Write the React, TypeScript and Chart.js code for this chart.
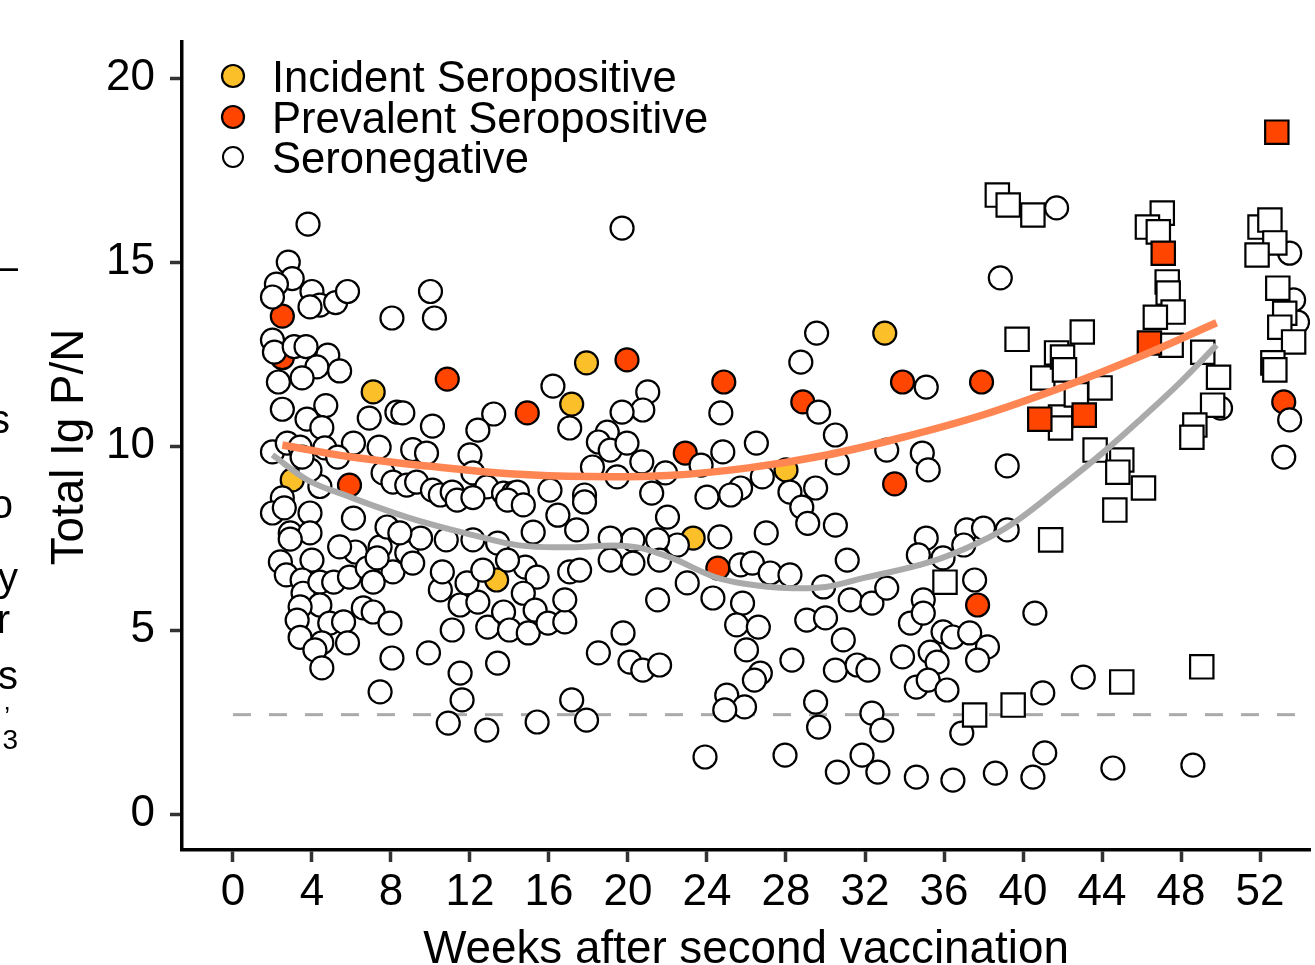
import React, { useEffect, useRef } from 'react';
import { Chart, registerables } from 'chart.js';

Chart.register(...registerables);

const FONT = '"Liberation Sans", Arial, Helvetica, sans-serif';

// ---------- data ----------
const xTickValues = [0, 4, 8, 12, 16, 20, 24, 28, 32, 36, 40, 44, 48, 52];
const yTickValues = [0, 5, 10, 15, 20];
const cutoffValue = 2.7;
const legendLabels = ['Incident Seropositive', 'Prevalent Seropositive', 'Seronegative'];
const xTitle = 'Weeks after second vaccination';
const yTitle = 'Total Ig P/N';

// [weeks after second vaccination, total Ig P/N]
const seronegative: [number, number][] = [
  [3.8, 16.03], [2.8, 15.0], [3.0, 14.55], [2.2, 14.4], [2.0, 14.05], [4.0, 14.2], [4.4, 13.83], [3.9, 13.78], [5.2, 13.9], [5.8, 14.2],
  [2.0, 12.88], [2.1, 12.55], [3.1, 12.7], [3.7, 12.7], [4.8, 12.47], [4.25, 12.15], [5.4, 12.04], [3.5, 11.85], [2.3, 11.74],
  [2.5, 11.0], [4.7, 11.1], [3.75, 10.73], [4.5, 10.5], [6.9, 10.76], [8.3, 10.92], [8.6, 10.9], [10.1, 10.54], [13.2, 10.87], [12.4, 10.43],
  [10.0, 14.2], [8.05, 13.48], [10.2, 13.48],
  [2.0, 9.84], [2.75, 10.08], [3.4, 9.97], [4.4, 8.9], [6.1, 10.08], [7.4, 9.97], [9.1, 9.9], [12.0, 9.76],
  [7.6, 9.27], [8.1, 9.02], [8.8, 8.94], [9.3, 9.02], [10.1, 8.8], [10.5, 8.67], [11.1, 8.75], [12.15, 9.27], [12.85, 8.89], [13.7, 8.72],
  [14.2, 8.72], [3.9, 9.35], [3.5, 9.7], [4.65, 9.95], [5.3, 9.7], [9.8, 9.81], [2.5, 8.59],
  [2.0, 8.18], [2.6, 8.32], [3.9, 8.18], [2.9, 7.64], [3.9, 7.64], [2.9, 7.47], [2.4, 6.85], [4.0, 6.9], [2.7, 6.5], [3.5, 6.36],
  [3.55, 6.0], [4.4, 6.3], [5.1, 6.3], [4.4, 5.68], [3.4, 5.63], [3.25, 5.27], [4.9, 5.19], [5.6, 5.22], [3.4, 4.8], [4.5, 4.65],
  [4.15, 4.46], [4.5, 3.97], [5.8, 4.65],
  [6.1, 8.04], [6.2, 7.12], [5.9, 6.44], [6.8, 6.68], [7.45, 7.26], [8.1, 6.58], [7.1, 6.3], [6.6, 5.6], [7.1, 5.49], [7.95, 5.19],
  [8.05, 4.24], [7.45, 3.32], [9.9, 4.38], [11.1, 5.0], [10.5, 6.09], [10.6, 6.58], [11.5, 5.68], [12.4, 5.76], [11.85, 6.28], [12.65, 6.63],
  [12.9, 5.08], [13.7, 5.49], [14.0, 5.0], [11.5, 3.83], [11.6, 3.1], [10.9, 2.47], [12.85, 2.28], [13.4, 4.1],
  [7.8, 7.8], [8.8, 7.1], [9.5, 7.5], [11.35, 8.53], [12.15, 8.6], [10.8, 7.45], [12.15, 7.45], [13.4, 7.36], [5.4, 7.26], [7.3, 6.96],
  [8.45, 7.64], [9.1, 6.82],
  [19.7, 15.92], [16.2, 11.63], [21.0, 11.47], [20.75, 10.98], [19.7, 10.92], [24.7, 10.9], [17.05, 10.49], [18.95, 10.38], [18.5, 10.11],
  [19.1, 9.89], [19.95, 10.08], [26.5, 10.08], [24.8, 9.84], [18.2, 9.43], [20.7, 9.57], [21.9, 9.27], [23.7, 9.48], [26.8, 9.16],
  [19.45, 9.16], [16.05, 8.8], [14.4, 8.75], [17.8, 8.67], [21.2, 8.72], [25.7, 8.86], [24.0, 8.61],
  [13.9, 8.53], [14.7, 8.4], [16.45, 8.12], [17.8, 8.48], [17.4, 7.72], [15.2, 7.66], [22.0, 8.07], [25.2, 8.67],
  [27.0, 7.64], [24.65, 7.53], [22.5, 7.31], [21.5, 7.45], [20.25, 7.45], [19.1, 7.5], [19.1, 6.9], [20.25, 6.82], [21.6, 6.9],
  [25.7, 6.77], [26.3, 6.82], [27.2, 6.55], [23.0, 6.28], [24.3, 5.87], [25.8, 5.73], [21.5, 5.82], [25.5, 5.14], [26.6, 5.08],
  [26.0, 4.46], [26.7, 3.83], [26.4, 3.64], [25.0, 3.23], [25.9, 2.91], [24.9, 2.83], [23.9, 1.55], [19.75, 4.92], [18.5, 4.38],
  [20.1, 4.13], [20.75, 3.91], [21.6, 4.05], [17.15, 3.1], [17.9, 2.55], [15.4, 2.5],
  [14.8, 6.71], [15.4, 6.44], [14.7, 6.0], [15.3, 5.54], [14.95, 4.92], [15.95, 5.19], [16.8, 5.22], [16.8, 5.82], [17.05, 6.58],
  [17.55, 6.63], [13.9, 6.9],
  [38.85, 14.57], [29.55, 13.07], [28.75, 12.28], [35.1, 11.6], [29.65, 10.92], [30.5, 10.3], [30.6, 9.54], [33.1, 9.89], [34.9, 9.81],
  [35.2, 9.35], [39.2, 9.46], [29.5, 8.86], [28.2, 8.75],
  [41.7, 16.47], [50.0, 11.03], [53.5, 15.24], [53.7, 13.97], [53.9, 13.37], [53.5, 10.71], [53.2, 9.7],
  [28.8, 8.34], [29.1, 7.9], [30.5, 7.85], [31.1, 6.9], [28.2, 6.5], [29.9, 6.17], [31.25, 5.82], [32.35, 5.73], [33.1, 6.14],
  [29.05, 5.27], [30.0, 5.33], [30.9, 4.73], [28.3, 4.18], [30.5, 3.91], [31.6, 4.05], [32.15, 3.91],
  [35.1, 7.5], [34.7, 7.04], [35.95, 6.96], [37.15, 7.72], [38.0, 7.77], [39.2, 7.72], [37.0, 7.31], [37.55, 6.36], [40.6, 5.46],
  [34.95, 5.82], [34.3, 5.19], [34.95, 5.46], [35.95, 4.95], [36.45, 4.81], [37.3, 4.92], [38.2, 4.54], [33.9, 4.27], [35.3, 4.4],
  [35.65, 4.13], [37.7, 4.18], [34.6, 3.45], [35.2, 3.64], [36.15, 3.37], [29.5, 3.04], [29.65, 2.36], [32.35, 2.74], [32.85, 2.28],
  [36.9, 2.2], [41.0, 3.29], [27.95, 1.6], [31.85, 1.6], [30.6, 1.14], [32.65, 1.14], [34.6, 1.0], [36.45, 0.92], [38.6, 1.11],
  [40.5, 1.0], [41.1, 1.66], [43.05, 3.72], [44.55, 1.25], [48.6, 1.33],
];

const incident: [number, number][] = [
  [7.1, 11.47], [3.0, 9.08], [13.35, 6.36], [17.9, 12.26], [17.15, 11.14], [23.3, 7.5], [28.0, 9.35], [33.0, 13.07],
];

const prevalent: [number, number][] = [
  [2.5, 13.53], [2.5, 12.4], [10.85, 11.82], [5.9, 8.94], [19.95, 12.34], [14.9, 10.9], [24.85, 11.74], [22.9, 9.81],
  [24.55, 6.68], [33.9, 11.74], [37.9, 11.74], [28.85, 11.2], [33.5, 8.97], [37.7, 5.68], [53.2, 11.2],
];

const squaresNegative: [number, number][] = [
  [38.7, 16.82], [39.25, 16.55], [40.5, 16.28], [39.7, 12.9], [41.0, 11.85], [41.7, 12.53], [41.9, 10.79],
  [47.05, 16.33], [46.3, 15.95], [46.85, 15.82], [47.3, 14.46], [47.35, 14.16], [47.6, 13.64], [46.7, 13.5], [47.5, 12.74],
  [49.1, 12.55], [49.9, 11.87], [49.6, 11.11], [48.7, 10.57], [48.55, 10.24], [43.0, 13.1], [42.0, 12.42], [42.1, 12.07],
  [43.9, 11.58], [42.7, 11.39], [41.9, 10.49], [43.65, 9.89], [45.0, 9.62], [44.8, 9.29], [46.1, 8.86],
  [52.0, 15.95], [52.5, 16.14], [52.75, 15.52], [51.85, 15.19], [52.9, 14.29], [53.25, 13.61], [53.0, 13.23], [53.7, 12.83],
  [52.65, 12.26], [52.75, 12.07],
  [36.05, 6.3], [37.55, 2.69], [39.5, 2.96], [41.4, 7.45], [44.65, 8.26], [45.0, 3.59], [49.05, 4.0],
];

const squaresPrevalent: [number, number][] = [
  [52.85, 18.53], [47.1, 15.24], [46.4, 12.8], [43.1, 10.84], [40.85, 10.73],
];

const seropositiveFit: [number, number][] = [
  [2.5, 10.03], [6, 9.7], [10, 9.45], [14, 9.25], [18, 9.17], [22, 9.2], [26, 9.4], [30, 9.75], [34, 10.25],
  [38, 10.85], [42, 11.6], [46, 12.45], [49.8, 13.35],
];

const seronegativeFit: [number, number][] = [
  [2.0, 9.76], [3.8, 9.07], [5.4, 8.72], [8.8, 8.07], [12.15, 7.58], [14.5, 7.3], [17, 7.25], [20, 7.28], [22, 7.0],
  [24.4, 6.44], [26, 6.25], [28, 6.14], [30, 6.17], [31.9, 6.41], [35.3, 6.85], [37.8, 7.39], [39.5, 7.9], [41.9, 8.89],
  [44, 9.8], [46, 10.75], [48, 11.75], [49.8, 12.74],
];

const cutoffSpan: [number, number] = [0, 54.6];

// ---------- styles ----------
const COL_INCIDENT = '#FBBF2A';
const COL_PREVALENT = '#FF4500';
const COL_NEG = '#FFFFFF';
const COL_FIT_POS = '#FF8652';
const COL_FIT_NEG = '#AAAAAA';

const toPts = (arr: [number, number][]) => arr.map(([x, y]) => ({ x, y }));

const overlayPlugin = {
  id: 'overlayText',
  afterDraw(chart: any) {
    const ctx = chart.ctx as CanvasRenderingContext2D;
    ctx.save();
    // legend
    const fills = [COL_INCIDENT, COL_PREVALENT, COL_NEG];
    const rows = [76, 117, 157];
    ctx.font = `43.6px ${FONT}`;
    ctx.textAlign = 'left';
    ctx.textBaseline = 'alphabetic';
    legendLabels.forEach((label, i) => {
      ctx.beginPath();
      ctx.arc(233, rows[i], i === 2 ? 10 : 11, 0, Math.PI * 2);
      ctx.fillStyle = fills[i];
      ctx.fill();
      ctx.lineWidth = i === 2 ? 2 : 2.2;
      ctx.strokeStyle = '#000';
      ctx.stroke();
      ctx.fillStyle = '#000';
      ctx.fillText(label, 272, rows[i] + 15.5);
    });
    // axis titles
    ctx.font = `45.8px ${FONT}`;
    ctx.textAlign = 'center';
    ctx.fillText(xTitle, 746, 963);
    ctx.translate(83, 447);
    ctx.rotate(-Math.PI / 2);
    ctx.fillText(yTitle, 0, 0);
    ctx.restore();
  },
};

export default function App() {
  const canvasRef = useRef<HTMLCanvasElement | null>(null);

  useEffect(() => {
    const canvas = canvasRef.current;
    if (!canvas) return;
    const pointBase = {
      type: 'scatter' as const,
      showLine: false,
      borderColor: '#000',
      borderWidth: 2.2,
      pointRadius: 11.5,
      pointHoverRadius: 11.5,
    };
    const chart = new Chart(canvas, {
      type: 'scatter',
      data: {
        datasets: [
          {
            label: 'seropositive fit',
            data: toPts(seropositiveFit),
            showLine: true,
            borderColor: COL_FIT_POS,
            borderWidth: 7.5,
            pointRadius: 0,
            tension: 0.4,
            fill: false,
            order: 0,
          } as any,
          {
            label: 'seronegative fit',
            data: toPts(seronegativeFit),
            showLine: true,
            borderColor: COL_FIT_NEG,
            borderWidth: 6,
            pointRadius: 0,
            tension: 0.4,
            fill: false,
            order: 0,
          } as any,
          {
            ...pointBase,
            label: 'squares prevalent',
            data: toPts(squaresPrevalent),
            pointStyle: 'rect',
            pointRadius: 16.5,
            backgroundColor: COL_PREVALENT,
            order: 1,
          } as any,
          {
            ...pointBase,
            label: 'squares negative',
            data: toPts(squaresNegative),
            pointStyle: 'rect',
            pointRadius: 16.5,
            backgroundColor: COL_NEG,
            order: 2,
          } as any,
          {
            ...pointBase,
            label: legendLabels[2],
            data: toPts(seronegative),
            backgroundColor: COL_NEG,
            order: 3,
          } as any,
          {
            ...pointBase,
            label: legendLabels[1],
            data: toPts(prevalent),
            backgroundColor: COL_PREVALENT,
            order: 4,
          } as any,
          {
            ...pointBase,
            label: legendLabels[0],
            data: toPts(incident),
            backgroundColor: COL_INCIDENT,
            order: 4,
          } as any,
          {
            label: 'cutoff',
            data: cutoffSpan.map((x) => ({ x, y: cutoffValue })),
            showLine: true,
            borderColor: '#AAAAAA',
            borderWidth: 3,
            borderDash: [18, 18],
            pointRadius: 0,
            fill: false,
            order: 5,
          } as any,
        ],
      },
      options: {
        responsive: false,
        devicePixelRatio: 1,
        animation: false,
        events: [],
        layout: { autoPadding: false, padding: { top: 42, right: 5, left: 0, bottom: 0 } },
        plugins: {
          legend: { display: false },
          tooltip: { enabled: false },
          title: { display: false },
        },
        scales: {
          x: {
            type: 'linear',
            min: -2.58,
            max: 54.53,
            afterBuildTicks: (scale: any) => {
              scale.ticks = xTickValues.map((v) => ({ value: v }));
            },
            afterFit: (scale: any) => {
              scale.height = 115;
              scale.paddingLeft = 0;
              scale.paddingRight = 0;
            },
            border: { display: true, color: '#000', width: 3.5 },
            grid: {
              display: true,
              drawOnChartArea: false,
              drawTicks: true,
              tickLength: 12,
              tickWidth: 3.5,
              tickColor: '#333333',
            },
            ticks: {
              autoSkip: false,
              maxRotation: 0,
              padding: 4,
              color: '#000',
              font: { family: FONT, size: 44 },
              callback: (v: any) => String(v),
            },
          },
          y: {
            type: 'linear',
            min: -0.978,
            max: 20.98,
            afterBuildTicks: (scale: any) => {
              scale.ticks = yTickValues.map((v) => ({ value: v }));
            },
            afterFit: (scale: any) => {
              scale.width = 182;
              scale.paddingTop = 0;
              scale.paddingBottom = 0;
            },
            border: { display: true, color: '#000', width: 3.5 },
            grid: {
              display: true,
              drawOnChartArea: false,
              drawTicks: true,
              tickLength: 12,
              tickWidth: 3.5,
              tickColor: '#333333',
            },
            ticks: {
              autoSkip: false,
              padding: 15,
              color: '#000',
              font: { family: FONT, size: 44 },
              callback: (v: any) => String(v),
            },
          },
        },
      },
      plugins: [overlayPlugin],
    });
    return () => chart.destroy();
  }, []);

  const frag = (text: string, right: number, top: number, size: number) => (
    <span
      key={text + top}
      style={{
        position: 'absolute',
        right: 20 - right,
        top,
        fontFamily: FONT,
        fontSize: size,
        lineHeight: `${size}px`,
        color: '#000',
        whiteSpace: 'nowrap',
      }}
    >
      {text}
    </span>
  );

  return (
    <div style={{ position: 'fixed', left: 0, top: 0, width: 1315, height: 965, background: '#fff', overflow: 'hidden' }}>
      <canvas ref={canvasRef} width={1315} height={965} style={{ position: 'absolute', left: 0, top: 0, width: 1315, height: 965 }} />
      <div style={{ position: 'absolute', left: 0, top: 0, width: 20, height: 965, overflow: 'hidden' }}>
        {frag('–', 18, 246, 40)}
        {frag('s', 10, 399, 40)}
        {frag('o', 13, 484, 40)}
        {frag('y', 18, 557, 40)}
        {frag('r', 10, 599, 40)}
        {frag('s', 18, 655, 40)}
        {frag('’', 10, 703, 26)}
        {frag('3', 18, 726, 28)}
      </div>
    </div>
  );
}
